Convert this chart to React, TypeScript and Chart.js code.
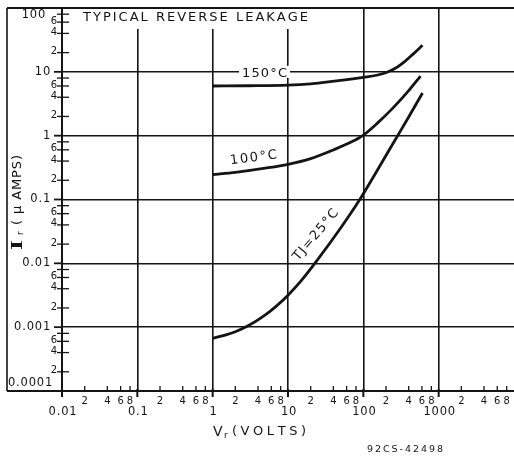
import React, { useEffect, useRef } from 'react';
import { Chart, registerables } from 'chart.js';

Chart.register(...registerables);

// ---- axes ----
const xDecades = [0.01, 0.1, 1, 10, 100, 1000, 10000];
const xDecadeLabels = ['0.01', '0.1', '1', '10', '100', '1000'];
const yDecades = [0.0001, 0.001, 0.01, 0.1, 1, 10, 100];
const yDecadeLabels = ['0.0001', '0.001', '0.01', '0.1', '1', '10', '100'];
const minorMultipliers = [2, 4, 6, 8];
const xMinorLabeled = [2, 4, 6, 8];
const yMinorLabeled = [2, 4, 6];

// ---- series (Vr volts, Ir microamps) ----
const v150 = [1, 3, 10, 20, 30, 50, 100, 150, 210, 280, 350, 450, 610];
const i150 = [6.0, 6.05, 6.2, 6.5, 6.83, 7.34, 8.2, 8.84, 9.94, 11.8, 14.3, 18.6, 26];
const v100 = [1, 2, 5, 10, 20, 40, 70, 100, 150, 250, 400, 575];
const i100 = [0.246, 0.267, 0.31, 0.356, 0.438, 0.598, 0.8, 1.02, 1.53, 2.75, 5.07, 8.6];
const v25 = [1, 1.5, 2, 3, 5, 7, 10, 15, 23.5, 50, 88, 150, 257, 400, 610];
const i25 = [0.00067, 0.000757, 0.000849, 0.00106, 0.00156, 0.00214, 0.00317, 0.00537, 0.01055, 0.0358, 0.0964, 0.275, 0.81, 1.96, 4.65];

const seriesNames = ['150°C', '100°C', 'TJ=25°C'];

const INK = '#141414';
const SANS = '"DejaVu Sans", "Liberation Sans", sans-serif';

function spaced(ctx: CanvasRenderingContext2D, text: string, x: number, y: number, width: number) {
  const chars = Array.from(text);
  const widths = chars.map((c) => ctx.measureText(c).width);
  const total = widths.reduce((a, b) => a + b, 0);
  const gap = chars.length > 1 ? (width - total) / (chars.length - 1) : 0;
  let cx = x;
  chars.forEach((c, i) => {
    ctx.fillText(c, cx, y);
    cx += widths[i] + gap;
  });
}

function spacedRotated(ctx: CanvasRenderingContext2D, text: string, cx: number, cy: number, width: number, angleDeg: number) {
  const a = (angleDeg * Math.PI) / 180;
  ctx.save();
  ctx.translate(cx, cy);
  ctx.rotate(a);
  spaced(ctx, text, -width / 2, 0, width);
  ctx.restore();
}

const decor = {
  id: 'decor',
  beforeDraw(chart: any) {
    const { ctx, width, height } = chart;
    ctx.save();
    ctx.fillStyle = '#fff';
    ctx.fillRect(0, 0, width, height);
    ctx.restore();
  },
  afterDraw(chart: any) {
    const { ctx, chartArea } = chart;
    const { left: L, right: R, top: T, bottom: B } = chartArea;
    const xs = chart.scales.x;
    const ys = chart.scales.y;
    const X = (v: number) => xs.getPixelForValue(v);
    const Y = (v: number) => ys.getPixelForValue(v);

    ctx.save();
    // white backgrounds behind lettering
    ctx.fillStyle = '#fff';
    ctx.fillRect(L + 1, T + 1, 312 - L, 20);
    ctx.fillRect(239, Y(10) - 6, 51, 12);

    ctx.strokeStyle = INK;
    ctx.lineCap = 'butt';
    const line = (x1: number, y1: number, x2: number, y2: number, w: number) => {
      ctx.lineWidth = w;
      ctx.beginPath();
      ctx.moveTo(x1, y1);
      ctx.lineTo(x2, y2);
      ctx.stroke();
    };

    // frame
    line(7, T, R, T, 1.8);
    line(7, T, 7, B, 1.6);
    line(7, B, R, B, 2);
    line(L, T, L, B + 6, 2);

    // x ticks
    for (let k = 0; k < xDecades.length - 1; k++) {
      const d = xDecades[k];
      const px = X(d);
      line(px, B - 2, px, B + 6, 2);
      minorMultipliers.forEach((m) => line(X(d * m), B - 5, X(d * m), B, 1.3));
    }
    // y ticks
    for (let k = 0; k < yDecades.length - 1; k++) {
      const d = yDecades[k];
      if (k > 0) line(L - 8, Y(d), L, Y(d), 1.8);
      minorMultipliers.forEach((m) => line(L - 5, Y(d * m), L + 7, Y(d * m), 1.3));
    }

    ctx.fillStyle = INK;
    ctx.textBaseline = 'middle';

    // x labels
    ctx.textAlign = 'center';
    ctx.font = `10px ${SANS}`;
    for (let k = 0; k < xDecades.length - 1; k++) {
      xMinorLabeled.forEach((m) => ctx.fillText(String(m), X(xDecades[k] * m), B + 10));
    }
    ctx.font = `11.5px ${SANS}`;
    (ctx as any).letterSpacing = '0.8px';
    xDecadeLabels.forEach((lab, k) => ctx.fillText(lab, X(xDecades[k]) + 1, B + 21));

    // y labels
    ctx.textAlign = 'right';
    yDecadeLabels.forEach((lab, k) => {
      let y = Y(yDecades[k]);
      let xr = 51;
      if (k === yDecades.length - 1) { y = T + 7; xr = 46; }
      if (k === 0) { y = B - 8; xr = 53; }
      ctx.fillText(lab, xr, y);
    });
    (ctx as any).letterSpacing = '0px';
    ctx.font = `10px ${SANS}`;
    for (let k = 0; k < yDecades.length - 1; k++) {
      yMinorLabeled.forEach((m) => ctx.fillText(String(m), 57, Y(yDecades[k] * m) - 1));
    }

    // title
    ctx.textAlign = 'left';
    ctx.font = `13px ${SANS}`;
    spaced(ctx, 'TYPICAL REVERSE LEAKAGE', 83, 18, 225);

    // curve labels
    spaced(ctx, seriesNames[0], 242, Y(10) + 2, 45);
    spacedRotated(ctx, seriesNames[1], 253.5, 158, 47, -7);
    spacedRotated(ctx, seriesNames[2], 316, 235, 63, -50);

    // x title
    ctx.font = `14px ${SANS}`;
    ctx.fillText('V', 213, 432);
    ctx.font = `9px ${SANS}`;
    ctx.fillText('r', 224, 436);
    ctx.font = `13px ${SANS}`;
    spaced(ctx, '(VOLTS)', 232, 432, 74);

    // y title
    ctx.save();
    ctx.translate(18, 251);
    ctx.rotate(-Math.PI / 2);
    ctx.font = `bold 14px "DejaVu Serif", serif`;
    ctx.save();
    ctx.translate(1, 0);
    ctx.scale(1.5, 1);
    ctx.fillText('I', 0, 0);
    ctx.restore();
    ctx.font = `9px ${SANS}`;
    ctx.fillText('r', 16, 3);
    ctx.font = `13px ${SANS}`;
    spaced(ctx, '( μ AMPS)', 26, 0, 70);
    ctx.restore();

    // drawing number
    ctx.font = `9.5px ${SANS}`;
    spaced(ctx, '92CS-42498', 367, 450, 76);

    ctx.restore();
  },
};

export default function App() {
  const ref = useRef<HTMLCanvasElement | null>(null);

  useEffect(() => {
    if (!ref.current) return;
    const mk = (vs: number[], is: number[]) => vs.map((v, i) => ({ x: v, y: is[i] }));
    const ds = (label: string, data: any[]) => ({
      label,
      data,
      showLine: true,
      borderColor: INK,
      borderWidth: 2.8,
      pointRadius: 0,
      cubicInterpolationMode: 'monotone' as const,
      fill: false,
    });
    const chart = new Chart(ref.current, {
      type: 'scatter',
      data: {
        datasets: [
          ds(seriesNames[0], mk(v150, i150)),
          ds(seriesNames[1], mk(v100, i100)),
          ds(seriesNames[2], mk(v25, i25)),
        ],
      },
      options: {
        animation: false,
        responsive: false,
        devicePixelRatio: 1,
        layout: { padding: { left: 62, top: 8, right: 0, bottom: 67 } },
        plugins: { legend: { display: false }, tooltip: { enabled: false } },
        scales: {
          x: {
            type: 'logarithmic',
            min: 0.01,
            max: 10000,
            afterBuildTicks: (s: any) => { s.ticks = xDecades.map((v) => ({ value: v })); },
            afterFit: (s: any) => { s.height = 0; },
            ticks: { display: false },
            border: { display: false },
            grid: {
              drawTicks: false,
              lineWidth: 1.6,
              color: (c: any) => (c.tick && (c.tick.value === 0.01 || c.tick.value === 10000) ? 'rgba(0,0,0,0)' : INK),
            },
          },
          y: {
            type: 'logarithmic',
            min: 0.0001,
            max: 100,
            afterBuildTicks: (s: any) => { s.ticks = yDecades.map((v) => ({ value: v })); },
            afterFit: (s: any) => { s.width = 0; },
            ticks: { display: false },
            border: { display: false },
            grid: {
              drawTicks: false,
              lineWidth: 1.6,
              color: (c: any) => (c.tick && (c.tick.value === 100 || c.tick.value === 0.0001) ? 'rgba(0,0,0,0)' : INK),
            },
          },
        },
      },
      plugins: [decor],
    });
    return () => chart.destroy();
  }, []);

  return (
    <div style={{ position: 'fixed', left: 0, top: 0, width: 514, height: 458, background: '#fff' }}>
      <canvas ref={ref} width={514} height={458} style={{ display: 'block', width: 514, height: 458 }} />
    </div>
  );
}
